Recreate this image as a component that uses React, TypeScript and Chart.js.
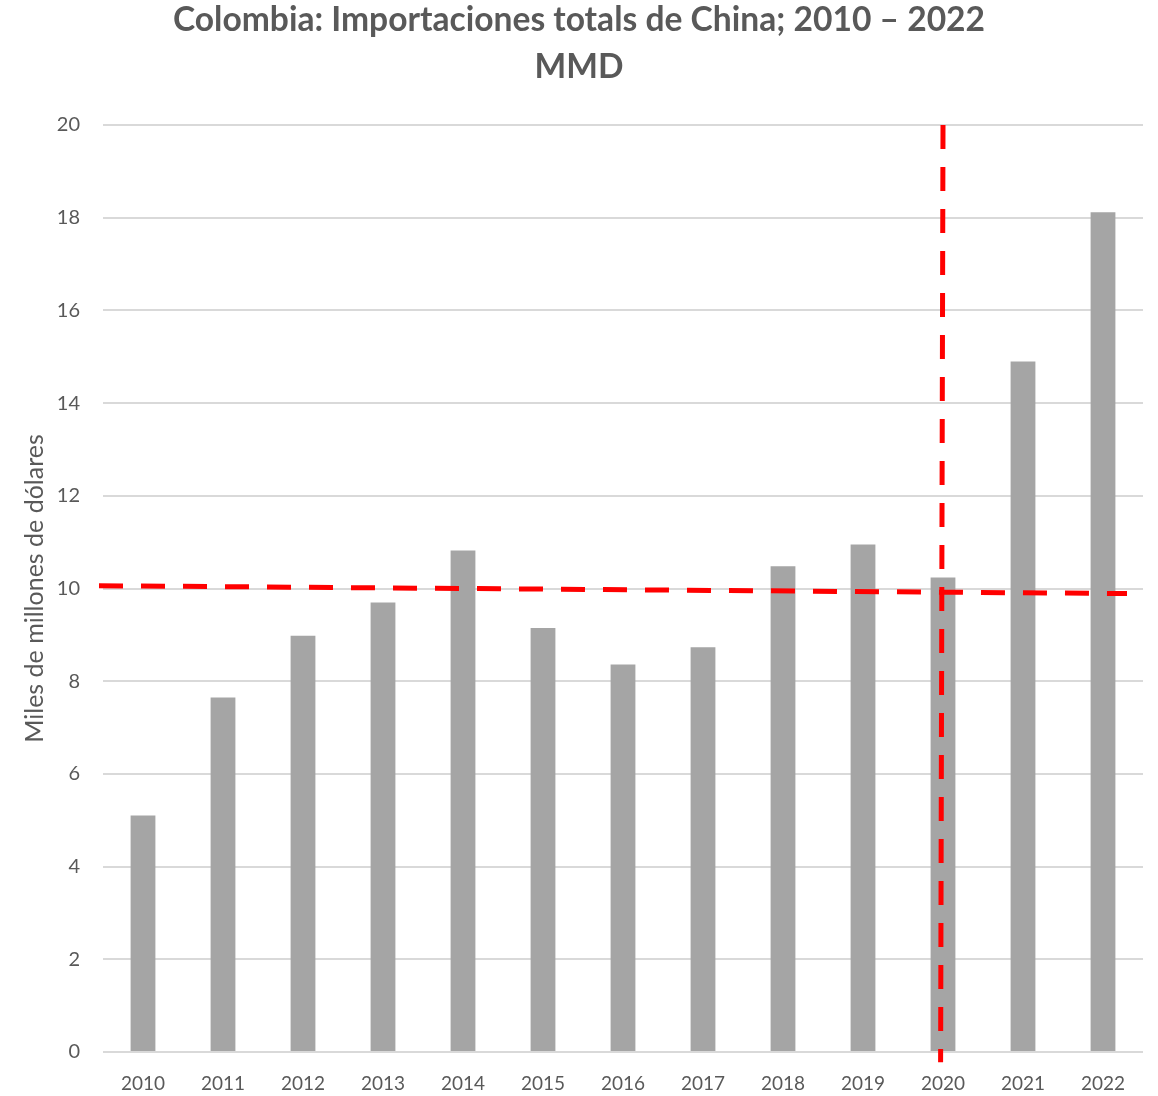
import React, { useEffect, useRef } from "react";
import { Chart, registerables } from "chart.js";

Chart.register(...registerables);

const years = ["2010", "2011", "2012", "2013", "2014", "2015", "2016", "2017", "2018", "2019", "2020", "2021", "2022"];
const imports = [5.1, 7.65, 8.98, 9.7, 10.82, 9.15, 8.36, 8.73, 10.48, 10.95, 10.24, 14.9, 18.12];
// red dashed reference lines (positions in category units on a hidden linear axis)
const hLineX = [-0.05, 12.8];
const hLineY = [10.06, 9.89];
const vLineX = [10.5, 10.47];
const vLineY = [20, -0.22];
const titleLines = ["Colombia: Importaciones totals de China; 2010 – 2022", "MMD"];
const yTitle = "Miles de millones de dólares";

export default function App() {
  const ref = useRef<HTMLCanvasElement>(null);
  useEffect(() => {
    document.body.style.margin = "0";
    const ctx = ref.current!;
    const chart = new Chart(ctx, {
      type: "bar",
      data: {
        labels: years,
        datasets: [
          {
            type: "bar",
            data: imports,
            backgroundColor: "#a5a5a5",
            barPercentage: 0.31,
            categoryPercentage: 1,
            grouped: false,
            order: 2,
          } as any,
          {
            type: "line",
            xAxisID: "x2",
            data: hLineX.map((x, i) => ({ x, y: hLineY[i] })),
            borderColor: "#ff0000",
            borderWidth: 5,
            borderDash: [24, 18],
            pointRadius: 0,
            clip: false,
            order: 0,
          } as any,
          {
            type: "line",
            xAxisID: "x2",
            data: vLineX.map((x, i) => ({ x, y: vLineY[i] })),
            borderColor: "#ff0000",
            borderWidth: 5,
            borderDash: [24, 18],
            pointRadius: 0,
            clip: false,
            order: 0,
          } as any,
        ],
      },
      options: {
        responsive: false,
        animation: false,
        devicePixelRatio: 1,
        layout: { padding: { left: 0, right: 0, top: 0, bottom: 0 } },
        plugins: {
          legend: { display: false },
          tooltip: { enabled: false },
          title: {
            display: true,
            text: titleLines,
            color: "#595959",
            font: { family: "Lato", size: 33.6, weight: "bold", lineHeight: "47px" as any },
            padding: { top: -3, bottom: 34 },
          },
        },
        scales: {
          x: {
            type: "category",
            offset: true,
            grid: { display: false, drawTicks: false },
            border: { display: false },
            ticks: { color: "#595959", font: { family: "Lato", size: 19 }, padding: 20 },
            afterFit: (s: any) => { s.height = 44; },
          },
          x2: {
            type: "linear",
            display: false,
            offset: false,
            min: 0,
            max: 13,
          },
          y: {
            min: 0,
            max: 20,
            ticks: { stepSize: 2, color: "#595959", font: { family: "Lato", size: 20 }, padding: 23 },
            grid: { color: "#d9d9d9", lineWidth: 2, drawTicks: false },
            border: { display: false },
            title: {
              display: true,
              text: yTitle,
              color: "#595959",
              font: { family: "Lato", size: 25 },
              padding: { top: 20, bottom: 0 },
            },
            afterFit: (s: any) => { s.width = 103; },
          },
          yRight: {
            type: "linear",
            position: "right",
            display: true,
            min: 0,
            max: 20,
            ticks: { display: false },
            grid: { display: false, drawTicks: false },
            border: { display: false },
            afterFit: (s: any) => { s.width = 15; },
          },
        },
      } as any,
    });
    return () => chart.destroy();
  }, []);
  return <canvas ref={ref} width={1158} height={1096} style={{ display: "block" }} />;
}
